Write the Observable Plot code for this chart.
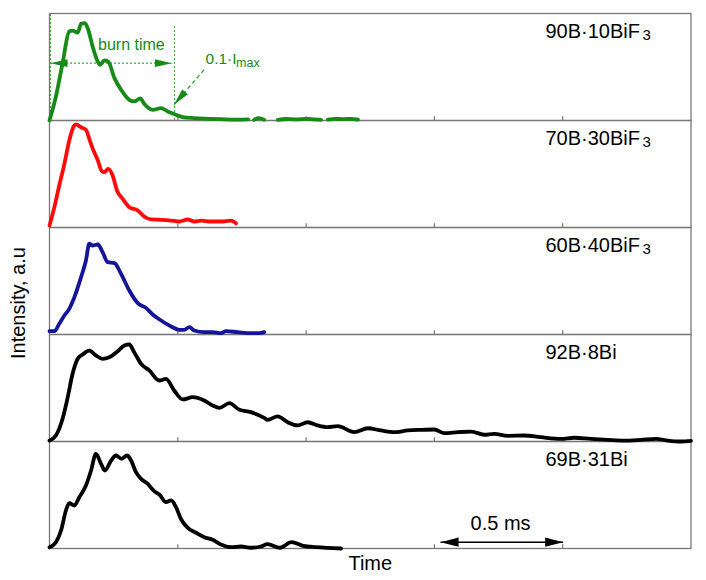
<!DOCTYPE html>
<html>
<head>
<meta charset="utf-8">
<script src="https://cdn.jsdelivr.net/npm/d3@7"></script>
<script src="https://cdn.jsdelivr.net/npm/@observablehq/plot@0.6"></script>
<style>
  body { margin: 0; background: #fff; }
  #chart { width: 706px; height: 580px; }
</style>
</head>
<body>
<div id="chart"></div>
<script>
// ---- categories / labels ----
const samples = ["90B·10BiF3", "70B·30BiF3", "60B·40BiF3", "92B·8Bi", "69B·31Bi"];
const labelMain = ["90B·10BiF", "70B·30BiF", "60B·40BiF", "92B·8Bi", "69B·31Bi"];
const labelSub = ["3", "3", "3", "", ""];
const colors = ["#178a17", "#ff0a0a", "#14149a", "#000000", "#000000"];
const tickValues = [0.5, 1, 1.5, 2];   // ms

// ---- series: [time (ms), intensity (a.u., normalised to panel)] ----
const s90B10BiF3 = [
  [0,0],[0.025,0.224],[0.051,0.536],[0.077,0.832],[0.090,0.84],[0.110,0.822],[0.123,0.904],
  [0.138,0.91],[0.151,0.848],[0.168,0.692],[0.188,0.551],[0.197,0.52],[0.214,0.561],[0.229,0.551],
  [0.253,0.396],[0.279,0.287],[0.311,0.193],[0.330,0.178],[0.354,0.206],[0.369,0.156],[0.402,0.10],
  [0.435,0.116],[0.461,0.084],[0.486,0.06],[0.519,0.032],[0.564,0.022],[0.617,0.016],[0.668,0.012],
  [0.727,0.008],[0.774,0.01],[0.785,null],[0.797,0.006],[0.816,0.022],[0.836,0.008],[0.86,null],
  [0.890,0.006],[0.922,0.014],[0.961,0.01],[1.0,0.016],[1.031,0.01],[1.058,0.006],[1.07,null],
  [1.085,0.008],[1.117,0.016],[1.144,0.012],[1.175,0.016],[1.202,0.008]
];
const s70B30BiF3 = [
  [0,0.019],[0.019,0.19],[0.038,0.393],[0.058,0.595],[0.077,0.813],[0.094,0.944],[0.103,0.963],
  [0.123,0.937],[0.142,0.913],[0.155,0.829],[0.168,0.74],[0.188,0.63],[0.203,0.53],[0.214,0.517],
  [0.229,0.548],[0.246,0.486],[0.263,0.346],[0.285,0.268],[0.311,0.19],[0.344,0.159],[0.369,0.103],
  [0.396,0.075],[0.435,0.072],[0.474,0.065],[0.506,0.056],[0.539,0.075],[0.564,0.056],[0.590,0.065],
  [0.629,0.056],[0.668,0.056],[0.707,0.065],[0.727,0.04]
];
const s60B40BiF3 = [
  [0,0.031],[0.019,0.031],[0.038,0.10],[0.058,0.178],[0.077,0.24],[0.097,0.349],[0.123,0.536],
  [0.142,0.692],[0.155,0.848],[0.168,0.832],[0.188,0.841],[0.207,0.769],[0.227,0.676],[0.253,0.667],
  [0.279,0.567],[0.311,0.411],[0.344,0.293],[0.376,0.249],[0.402,0.187],[0.435,0.131],[0.474,0.075],
  [0.506,0.044],[0.525,0.044],[0.545,0.069],[0.564,0.037],[0.603,0.022],[0.636,0.022],[0.668,0.012],
  [0.688,0.031],[0.733,0.022],[0.785,0.012],[0.818,0.012],[0.837,0.022]
];
const s92B8Bi = [
  [0,0.009],[0.025,0.056],[0.051,0.212],[0.071,0.414],[0.090,0.633],[0.110,0.773],[0.129,0.813],
  [0.155,0.85],[0.181,0.804],[0.207,0.773],[0.233,0.788],[0.266,0.844],[0.292,0.897],[0.311,0.907],
  [0.330,0.835],[0.357,0.726],[0.389,0.664],[0.428,0.57],[0.454,0.586],[0.486,0.477],[0.519,0.393],
  [0.558,0.414],[0.603,0.383],[0.636,0.336],[0.662,0.315],[0.701,0.358],[0.740,0.296],[0.785,0.274],
  [0.837,0.221],[0.850,0.203],[0.889,0.234],[0.928,0.18],[0.967,0.15],[1.006,0.18],[1.045,0.15],
  [1.084,0.134],[1.123,0.143],[1.188,0.087],[1.240,0.124],[1.292,0.103],[1.344,0.087],[1.396,0.103],
  [1.448,0.109],[1.500,0.112],[1.539,0.078],[1.591,0.087],[1.643,0.093],[1.694,0.063],[1.733,0.072],
  [1.786,0.053],[1.850,0.056],[1.915,0.04],[1.993,0.025],[2.045,0.035],[2.110,0.025],[2.175,0.016],
  [2.240,0.009],[2.305,0.016],[2.364,0.025],[2.409,0.009],[2.461,0.0],[2.5,0.005]
];
const s69B31Bi = [
  [0,0.012],[0.025,0.059],[0.045,0.168],[0.064,0.355],[0.077,0.423],[0.097,0.402],[0.116,0.479],
  [0.142,0.589],[0.162,0.729],[0.181,0.885],[0.201,0.791],[0.216,0.729],[0.240,0.822],[0.259,0.869],
  [0.281,0.838],[0.302,0.869],[0.318,0.822],[0.337,0.713],[0.357,0.651],[0.383,0.604],[0.408,0.536],
  [0.428,0.505],[0.454,0.433],[0.474,0.449],[0.493,0.386],[0.512,0.278],[0.539,0.193],[0.571,0.147],
  [0.603,0.106],[0.636,0.081],[0.668,0.037],[0.707,0.012],[0.746,0.019],[0.785,0.007],[0.824,0.019],
  [0.850,0.04],[0.898,0.007],[0.943,0.06],[0.988,0.025],[1.039,0.012],[1.136,0.0]
];
const series = [s90B10BiF3, s70B30BiF3, s60B40BiF3, s92B8Bi, s69B31Bi];

// ---- annotation values (panel 1 burn time, panel 5 scale bar) ----
const burnStart = 0.004, burnEnd = 0.487, burnLevel = 0.536;
const scaleBar = {t1: 1.524, t2: 2.002, level: 0.059, label: "0.5 ms"};

// ---- build table ----
const rows = series.flatMap((s, i) => s.map(([t, v]) => ({sample: samples[i], t, v})));
const labels = samples.map((s, i) => ({sample: s, main: labelMain[i], sub: labelSub[i]}));

const green = colors[0];
const dotted = "#2fa52f";
const font = "'Liberation Sans', Arial, Helvetica, sans-serif";

function headSymbol(L, H) {
  return { draw(ctx) { ctx.moveTo(0, 0); ctx.lineTo(-L, -H); ctx.lineTo(-L, H); ctx.closePath(); } };
}
const bigHead = headSymbol(18, 4.6);
const greenHead = headSymbol(17, 3.8);
const P1 = () => samples[0];
const P5 = () => samples[4];

const chart = Plot.plot({
  width: 706,
  height: 580,
  marginLeft: 49,
  marginRight: 15.5,
  marginTop: 13,
  marginBottom: 32,
  style: {fontFamily: font, fontSize: "20px", background: "#fff", color: "#000"},
  x: {domain: [0, 2.5], axis: null},
  y: {domain: [0, 1], axis: null},
  fy: {domain: samples, padding: 0, axis: null},
  color: {domain: samples, range: colors},
  marks: [
    Plot.frame({stroke: "#777", strokeWidth: 1.3}),
    Plot.ruleX(tickValues, {x: d => d, y1: 0, y2: 0.035, stroke: "#777", strokeWidth: 1.2}),
    // burn-time guides (panel 1)
    Plot.ruleX([{t: burnStart, top: 0.99}, {t: burnEnd, top: 0.894}],
      {x: "t", y1: 0, y2: "top", fy: P1, stroke: dotted, strokeWidth: 1, strokeDasharray: "2,2"}),
    Plot.ruleY([burnLevel], {y: d => d, x1: burnStart, x2: burnEnd - 0.01, fy: P1,
      stroke: dotted, strokeWidth: 1.2, strokeDasharray: "2,2"}),
    Plot.dot([{t: burnEnd - 0.01, r: 0}, {t: burnStart, r: 180}],
      {x: "t", y: burnLevel, rotate: "r", symbol: greenHead, fill: green, stroke: null, fy: P1}),
    Plot.link([{x1: 0.602, y1: 0.474, x2: 0.485, y2: 0.147}],
      {x1: "x1", y1: "y1", x2: "x2", y2: "y2", fy: P1, stroke: dotted, strokeWidth: 1.3, strokeDasharray: "4,3"}),
    Plot.dot([{t: 0.485, v: 0.147}], {x: "t", y: "v", rotate: 130.6, symbol: greenHead, fill: green, stroke: null, fy: P1}),
    Plot.text(["burn time"], {x: 0.319, y: 0.767, text: d => d, fy: P1, fill: green, fontSize: 16, lineAnchor: "top"}),
    Plot.text(["0.1·I"], {x: 0.608, y: 0.63, text: d => d, fy: P1, fill: green, fontSize: 15.5, lineAnchor: "top", textAnchor: "start"}),
    Plot.text(["max"], {x: 0.727, y: 0.584, text: d => d, fy: P1, fill: green, fontSize: 12.5, lineAnchor: "top", textAnchor: "start"}),
    // data curves
    Plot.line(rows, {x: "t", y: "v", fy: "sample", z: "sample", stroke: "sample",
      strokeWidth: 3.8, curve: "monotone-x", strokeLinejoin: "round", strokeLinecap: "round"}),
    // sample labels
    Plot.text(labels, {fy: "sample", text: "main", frameAnchor: "top-right", textAnchor: "start",
      lineAnchor: "top", dx: -145.5, dy: 10.5, fontSize: 20}),
    Plot.text(labels.filter(d => d.sub), {fy: "sample", text: "sub", frameAnchor: "top-right", textAnchor: "start",
      lineAnchor: "top", dx: -48.5, dy: 15.5, fontSize: 15}),
    // scale bar (panel 5)
    Plot.link([scaleBar], {x1: "t1", x2: "t2", y1: "level", y2: "level", fy: P5, stroke: "#000", strokeWidth: 1.6}),
    Plot.dot([{t: scaleBar.t2, r: 0}, {t: scaleBar.t1, r: 180}],
      {x: "t", y: scaleBar.level, rotate: "r", symbol: bigHead, fill: "#000", stroke: null, fy: P5}),
    Plot.text([scaleBar], {x: d => (d.t1 + d.t2) / 2 - 0.005, y: 0.308, text: "label", fy: P5, fontSize: 20, lineAnchor: "top"}),
    // axis titles
    Plot.text(["Time"], {facet: "super", text: d => d, frameAnchor: "bottom", lineAnchor: "top", dy: 7, fontSize: 20}),
    Plot.text(["Intensity, a.u"], {facet: "super", text: d => d, frameAnchor: "left", rotate: -90,
      dx: -30.5, dy: 78, fontSize: 20})
  ]
});
document.getElementById("chart").append(chart);
</script>
</body>
</html>
